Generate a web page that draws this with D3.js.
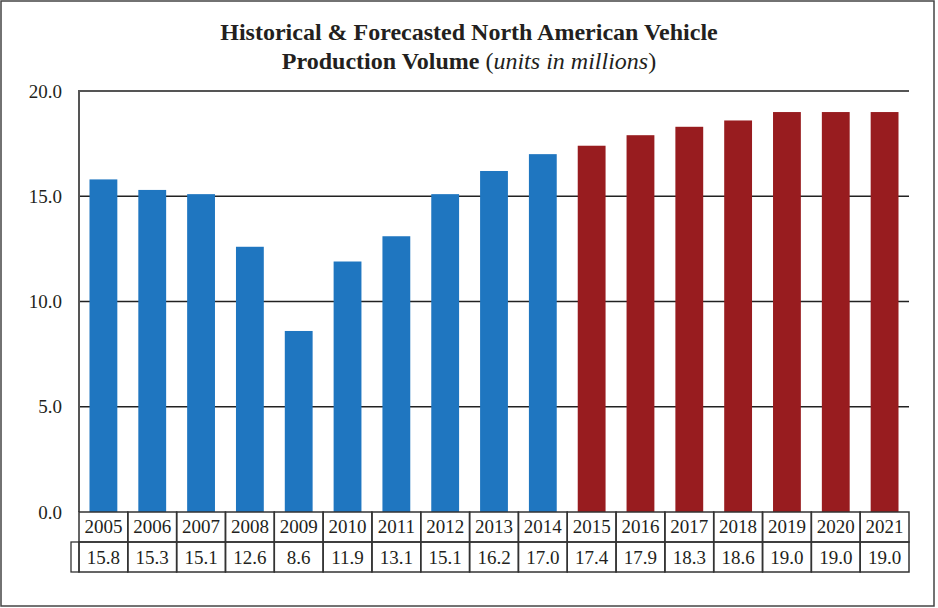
<!DOCTYPE html>
<html>
<head>
<meta charset="utf-8">
<script src="https://cdn.jsdelivr.net/npm/d3@7"></script>
<style>
    body { margin: 0; background: #fff; }
    text { font-family: "Liberation Serif", "Times New Roman", serif; fill: #231f20; }
    .chartTitle { font-size: 24px; font-weight: bold; }
    .tickText { font-size: 19px; }
    .tableText { font-size: 19px; }
</style>
</head>
<body>
<div id="production-volume"></div>
<script>

// data
var years = [2005, 2006, 2007, 2008, 2009, 2010, 2011, 2012, 2013, 2014,
             2015, 2016, 2017, 2018, 2019, 2020, 2021];
var volumes = [15.8, 15.3, 15.1, 12.6, 8.6, 11.9, 13.1, 15.1, 16.2, 17.0,
               17.4, 17.9, 18.3, 18.6, 19.0, 19.0, 19.0];
var periods = ["H", "H", "H", "H", "H", "H", "H", "H", "H", "H",
               "F", "F", "F", "F", "F", "F", "F"];
var yTicks = [0, 5, 10, 15, 20];

/**
 * Constructor for the production volume chart
 */
function VolumeChart(){
    var self = this;
    self.init();
};

/**
 * Creates the svg
 */
VolumeChart.prototype.init = function(){
    var self = this;
    self.svgWidth = 938;
    self.svgHeight = 608;
    self.margin = {top: 91, right: 29, bottom: 96, left: 79};

    self.svg = d3.select("#production-volume").append("svg")
        .attr("width", self.svgWidth)
        .attr("height", self.svgHeight);
};

/**
 * Colour of a bar: historical blue, forecast red
 */
VolumeChart.prototype.chooseColor = function(period){
    if (period == "H"){ return "#1f76c0"; }
    return "#981c1f";
};

/**
 * Draws bars, grid, axis and the table under the bars
 */
VolumeChart.prototype.update = function(){
    var self = this;
    var svg = self.svg;
    var left = self.margin.left;
    var right = self.svgWidth - self.margin.right;
    var top = self.margin.top;
    var bottom = self.svgHeight - self.margin.bottom;

    // outer frame
    svg.append("rect")
        .attr("x", 1).attr("y", 1)
        .attr("width", 933).attr("height", 605)
        .style("fill", "none")
        .style("stroke", "#444")
        .style("stroke-width", 1.5);

    // title
    svg.append("text")
        .attr("class", "chartTitle")
        .attr("x", 469)
        .attr("y", 40)
        .style("text-anchor", "middle")
        .text("Historical & Forecasted North American Vehicle");
    var line2 = svg.append("text")
        .attr("class", "chartTitle")
        .attr("x", 469)
        .attr("y", 69)
        .style("text-anchor", "middle");
    line2.append("tspan").text("Production Volume ");
    line2.append("tspan").style("font-weight", "normal").text("(");
    line2.append("tspan").style("font-weight", "normal").style("font-style", "italic").text("units in millions");
    line2.append("tspan").style("font-weight", "normal").text(")");

    var x = d3.scaleBand()
        .domain(years)
        .range([left, right])
        .paddingInner(0.43)
        .paddingOuter(0.215);

    var cell = d3.scaleBand()
        .domain(years)
        .range([left, right]);

    var y = d3.scaleLinear()
        .domain([0, 20])
        .range([bottom, top]);

    // grid lines (the top one doubles as the frame line)
    svg.append("g")
        .selectAll("line")
        .data(yTicks.filter(function(d){ return d > 0; }))
        .enter()
        .append("line")
        .attr("x1", left)
        .attr("x2", right)
        .attr("y1", function(d){ return y(d); })
        .attr("y2", function(d){ return y(d); })
        .style("stroke", function(d){ return d == 20 ? "#555" : "#222"; })
        .style("stroke-width", function(d){ return d == 20 ? 2 : 1.3; });

    // bars
    svg.append("g")
        .selectAll("rect")
        .data(volumes)
        .enter()
        .append("rect")
        .attr("x", function(d, i){ return x(years[i]); })
        .attr("width", x.bandwidth())
        .attr("y", function(d){ return y(d); })
        .attr("height", function(d){ return y(0) - y(d); })
        .style("fill", function(d, i){ return self.chooseColor(periods[i]); });

    // left axis line
    svg.append("line")
        .attr("x1", left).attr("x2", left)
        .attr("y1", top - 1).attr("y2", bottom)
        .style("stroke", "#555")
        .style("stroke-width", 2);

    // tick labels
    svg.append("g")
        .selectAll("text")
        .data(yTicks)
        .enter()
        .append("text")
        .attr("class", "tickText")
        .attr("x", 62)
        .attr("y", function(d){ return y(d) + 6.5; })
        .style("text-anchor", "end")
        .text(function(d){ return d3.format(".1f")(d); });

    // table under the chart
    var rowH = 30;
    var table = svg.append("g");

    // the empty key cell on the left of the value row
    table.append("rect")
        .attr("x", 71).attr("y", bottom + rowH)
        .attr("width", left - 71).attr("height", rowH)
        .style("fill", "none")
        .style("stroke", "#333")
        .style("stroke-width", 1.3);

    [0, 1].forEach(function(row){
        table.selectAll("rect.row" + row)
            .data(years)
            .enter()
            .append("rect")
            .attr("class", "row" + row)
            .attr("x", function(d){ return cell(d); })
            .attr("y", bottom + row * rowH)
            .attr("width", cell.bandwidth())
            .attr("height", rowH)
            .style("fill", "none")
            .style("stroke", "#333")
            .style("stroke-width", 1.5);
    });

    table.selectAll("text.year")
        .data(years)
        .enter()
        .append("text")
        .attr("class", "tableText year")
        .attr("x", function(d){ return cell(d) + cell.bandwidth() / 2; })
        .attr("y", bottom + 21)
        .style("text-anchor", "middle")
        .text(function(d){ return d; });

    table.selectAll("text.value")
        .data(volumes)
        .enter()
        .append("text")
        .attr("class", "tableText value")
        .attr("x", function(d, i){ return cell(years[i]) + cell.bandwidth() / 2; })
        .attr("y", bottom + rowH + 22)
        .style("text-anchor", "middle")
        .text(function(d){ return d3.format(".1f")(d); });
};

var chart = new VolumeChart();
chart.update();
</script>
</body>
</html>
